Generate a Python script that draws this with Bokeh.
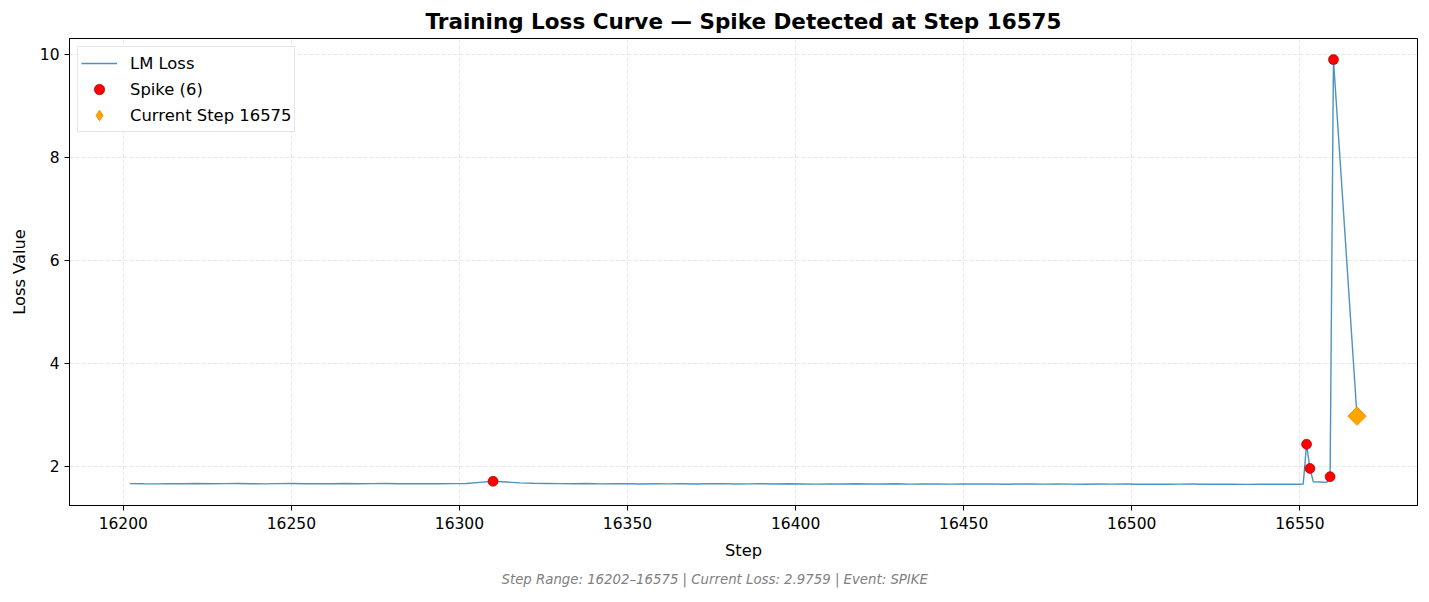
import math
from bokeh.plotting import figure
from bokeh.models import Range1d, FixedTicker, Legend, LegendItem, Title
from bokeh.embed import file_html
from bokeh.resources import INLINE

# ---------------- data ----------------
base_steps = [16202 + 4 * k for k in range(88)]
base_loss = [
    1.665, 1.662, 1.660, 1.664, 1.663, 1.667, 1.661, 1.665, 1.666, 1.663,
    1.660, 1.664, 1.668, 1.662, 1.665, 1.663, 1.666, 1.661, 1.664, 1.667,
    1.662, 1.663, 1.665, 1.661, 1.664,
    1.668, 1.690, 1.710, 1.695, 1.680,
    1.672, 1.668, 1.664, 1.662, 1.666, 1.660, 1.663, 1.661, 1.659, 1.662,
    1.660, 1.663, 1.658, 1.661, 1.664, 1.659, 1.660, 1.662, 1.657, 1.661,
    1.659, 1.656, 1.660, 1.658, 1.661, 1.657, 1.659, 1.662, 1.656, 1.658,
    1.660, 1.655, 1.658, 1.657, 1.660, 1.654, 1.657, 1.659, 1.655, 1.658,
    1.656, 1.653, 1.657, 1.655, 1.658, 1.654, 1.656, 1.652, 1.655, 1.657,
    1.653, 1.656, 1.654, 1.651, 1.655, 1.653, 1.652, 1.654,
]
tail_steps = [16551, 16552, 16553, 16554, 16556, 16558, 16559, 16560, 16567]
tail_loss = [1.655, 2.43, 1.96, 1.70, 1.695, 1.69, 1.80, 9.90, 2.9759]

steps = base_steps + tail_steps
loss = base_loss + tail_loss

spike_steps = [16310, 16552, 16553, 16559, 16560, 16567]
spike_loss = [1.710, 2.43, 1.96, 1.80, 9.90, 2.9759]

current_step = [16567]
current_loss = [2.9759]

x_ticks = [16200, 16250, 16300, 16350, 16400, 16450, 16500, 16550]
y_ticks = [2, 4, 6, 8, 10]

FONT = "DejaVu Sans"
W, H = 1421, 594

p = figure(width=W, height=H, output_backend="svg", toolbar_location=None,
           x_range=Range1d(16184, 16585), y_range=Range1d(1.24, 10.31),
           min_border_left=69, min_border_right=4, min_border_top=38, min_border_bottom=89)

p.title.text = "Training Loss Curve \u2014 Spike Detected at Step 16575"
p.title.align = "center"
p.title.text_font = FONT
p.title.text_font_size = "21.5px"
p.title.text_font_style = "bold"
p.title.text_color = "black"
p.title.standoff = 10

footer = Title(text="Step Range: 16202\u201316575 | Current Loss: 2.9759 | Event: SPIKE",
               align="left", offset=432, standoff=15,
               text_font=FONT, text_font_size="13.3px",
               text_font_style="italic", text_color="#808080")
p.add_layout(footer, "below")

p.outline_line_color = "black"
p.outline_line_width = 1

for ax in (p.xaxis, p.yaxis):
    ax.major_label_text_font = FONT
    ax.major_label_text_font_size = "15.5px"
    ax.major_label_text_color = "black"
    ax.axis_label_text_font = FONT
    ax.axis_label_text_font_size = "16.3px"
    ax.axis_label_text_font_style = "normal"
    ax.axis_label_text_color = "black"
    ax.minor_tick_line_color = None
    ax.major_tick_in = 0
    ax.major_tick_out = 5
    ax.axis_line_color = "black"

p.xaxis.ticker = FixedTicker(ticks=x_ticks)
p.yaxis.ticker = FixedTicker(ticks=y_ticks)
p.xaxis.axis_label = "Step"
p.yaxis.axis_label = "Loss Value"
p.xaxis.formatter.use_scientific = False
p.xaxis.major_label_standoff = 6
p.xaxis.axis_label_standoff = 9
p.yaxis.axis_label_standoff = 8

for g in (p.xgrid, p.ygrid):
    g.grid_line_color = "#b0b0b0"
    g.grid_line_alpha = 0.3
    g.grid_line_dash = "4 2"

r_line = p.line(steps, loss, line_color="#1f77b4", line_alpha=0.8, line_width=1.4)
r_spike = p.scatter(spike_steps, spike_loss, marker="circle", size=10,
                    fill_color="red", line_color="darkred", line_width=0.6)
r_cur_legend = p.scatter(current_step, current_loss, marker="diamond", size=12,
                         fill_color="orange", line_color="darkorange", line_width=1)
r_cur = p.scatter(current_step, current_loss, marker="square", size=13, angle=math.pi / 4,
                  fill_color="orange", line_color="darkorange", line_width=1)

legend = Legend(items=[
    LegendItem(label="LM Loss", renderers=[r_line]),
    LegendItem(label="Spike (6)", renderers=[r_spike]),
    LegendItem(label="Current Step 16575", renderers=[r_cur_legend]),
], location="top_left")
legend.label_text_font = FONT
legend.label_text_font_size = "16.4px"
legend.label_text_color = "black"
legend.border_line_color = "#cccccc"
legend.border_line_width = 1
legend.glyph_height = 26
legend.glyph_width = 36
legend.label_height = 26
legend.spacing = 0
legend.padding = 3
legend.margin = 8
legend.label_standoff = 13
p.add_layout(legend)

open("out.html", "w").write(file_html(p, INLINE))
